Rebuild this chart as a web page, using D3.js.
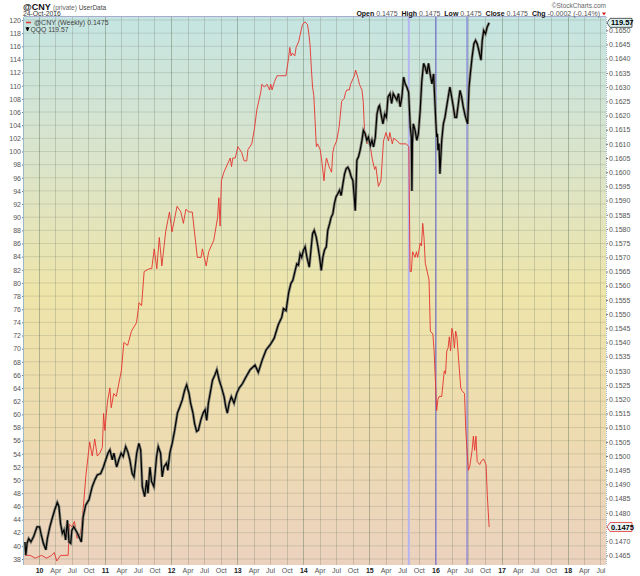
<!DOCTYPE html>
<meta charset='utf-8'>
<style>
	body { margin: 0; background: #fff; }
	svg { display: block; font-family: 'Liberation Sans', Arial, sans-serif; }
	.axis path { display: none; }
	.axis line { stroke: #777; }
	.axis text { fill: #555; font-size: 7px; }
</style>
<body>
<div id='container'></div>
<script src='https://d3js.org/d3.v7.min.js'></script>
<script>
	// @CNY weekly close (right axis)
	const cnyWeekly = [
		['2009-10-16', 0.1465], ['2009-11-13', 0.1465], ['2009-12-11', 0.1464], ['2010-01-15', 0.1465],
		['2010-02-12', 0.1464], ['2010-03-12', 0.1465], ['2010-03-26', 0.1466], ['2010-04-09', 0.1463],
		['2010-04-30', 0.1465], ['2010-06-11', 0.1465], ['2010-06-18', 0.1476], ['2010-07-02', 0.1475],
		['2010-07-16', 0.1477], ['2010-07-30', 0.1471], ['2010-08-20', 0.1473], ['2010-09-03', 0.1482],
		['2010-09-17', 0.1493], ['2010-10-08', 0.1505], ['2010-10-22', 0.1500], ['2010-11-05', 0.1506],
		['2010-11-19', 0.1500], ['2010-12-03', 0.1501], ['2010-12-17', 0.1503], ['2010-12-24', 0.1515],
		['2010-12-31', 0.1509], ['2011-01-14', 0.1519], ['2011-01-28', 0.1524], ['2011-02-04', 0.1517],
		['2011-02-18', 0.1522], ['2011-03-04', 0.1521], ['2011-04-01', 0.1530], ['2011-04-15', 0.1540],
		['2011-05-06', 0.1539], ['2011-05-27', 0.1544], ['2011-06-24', 0.1547], ['2011-07-08', 0.1554],
		['2011-07-22', 0.1553], ['2011-08-05', 0.1565], ['2011-09-02', 0.1566], ['2011-09-16', 0.1566],
		['2011-09-30', 0.1573], ['2011-10-14', 0.1566], ['2011-10-28', 0.1577], ['2011-11-11', 0.1567],
		['2011-12-02', 0.1579], ['2011-12-23', 0.1586], ['2012-01-06', 0.1579], ['2012-02-03', 0.1588],
		['2012-02-24', 0.1586], ['2012-03-09', 0.1582], ['2012-03-23', 0.1587], ['2012-04-06', 0.1586],
		['2012-04-27', 0.1586], ['2012-05-25', 0.1570], ['2012-06-15', 0.1570], ['2012-06-22', 0.1573],
		['2012-07-13', 0.1567], ['2012-07-27', 0.1572], ['2012-08-24', 0.1576], ['2012-09-14', 0.1584],
		['2012-09-21', 0.1591], ['2012-09-28', 0.1581], ['2012-10-05', 0.1597], ['2012-10-19', 0.1600],
		['2012-11-23', 0.1605], ['2012-11-30', 0.1602], ['2012-12-07', 0.1605], ['2012-12-21', 0.1605],
		['2013-01-04', 0.1609], ['2013-01-25', 0.1607], ['2013-02-08', 0.1604], ['2013-02-22', 0.1604],
		['2013-03-01', 0.1608], ['2013-03-22', 0.1610], ['2013-04-05', 0.1615], ['2013-04-19', 0.1622],
		['2013-05-10', 0.1628], ['2013-05-17', 0.1631], ['2013-05-31', 0.1630], ['2013-06-14', 0.1631],
		['2013-06-28', 0.1629], ['2013-07-05', 0.1631], ['2013-07-12', 0.1629], ['2013-07-26', 0.1632],
		['2013-08-09', 0.1634], ['2013-08-23', 0.1634], ['2013-09-27', 0.1634], ['2013-10-11', 0.1640],
		['2013-10-18', 0.1644], ['2013-10-25', 0.1641], ['2013-11-01', 0.1642], ['2013-11-15', 0.1641],
		['2013-11-22', 0.1644], ['2013-12-06', 0.1646], ['2013-12-13', 0.1648], ['2013-12-27', 0.1652],
		['2014-01-10', 0.1653], ['2014-01-24', 0.1652], ['2014-01-31', 0.1649], ['2014-02-07', 0.1645],
		['2014-02-14', 0.1637], ['2014-02-21', 0.1630], ['2014-02-28', 0.1627], ['2014-03-07', 0.1618],
		['2014-03-14', 0.1609], ['2014-03-21', 0.1610], ['2014-04-04', 0.1608], ['2014-04-11', 0.1605],
		['2014-04-25', 0.1597], ['2014-05-02', 0.1602], ['2014-05-09', 0.1605], ['2014-05-23', 0.1602],
		['2014-06-06', 0.1600], ['2014-06-13', 0.1607], ['2014-06-20', 0.1609], ['2014-07-04', 0.1611],
		['2014-07-18', 0.1616], ['2014-08-01', 0.1625], ['2014-08-15', 0.1626], ['2014-08-22', 0.1628],
		['2014-08-29', 0.1629], ['2014-09-12', 0.1629], ['2014-09-19', 0.1631], ['2014-10-03', 0.1633],
		['2014-10-10', 0.1634], ['2014-10-17', 0.1636], ['2014-10-31', 0.1633], ['2014-11-07', 0.1631],
		['2014-11-21', 0.1629], ['2014-11-28', 0.1625], ['2014-12-05', 0.1615], ['2014-12-19', 0.1610],
		['2014-12-26', 0.1612], ['2015-01-09', 0.1608], ['2015-01-16', 0.1605], ['2015-01-30', 0.1601],
		['2015-02-06', 0.1602], ['2015-02-20', 0.1595], ['2015-03-06', 0.1597], ['2015-03-20', 0.1611],
		['2015-04-03', 0.1614], ['2015-04-17', 0.1611], ['2015-04-24', 0.1614], ['2015-05-08', 0.1610],
		['2015-05-15', 0.1612], ['2015-06-05', 0.1611], ['2015-06-19', 0.1610], ['2015-07-24', 0.1610],
		['2015-08-07', 0.1609], ['2015-08-14', 0.1565], ['2015-08-21', 0.1565], ['2015-08-28', 0.1572],
		['2015-09-11', 0.1570], ['2015-09-18', 0.1572], ['2015-09-25', 0.1570], ['2015-10-09', 0.1575],
		['2015-10-16', 0.1574], ['2015-10-23', 0.1582], ['2015-10-30', 0.1577], ['2015-11-06', 0.1568],
		['2015-11-27', 0.1562], ['2015-12-04', 0.1544], ['2015-12-18', 0.1543], ['2015-12-25', 0.1537],
		['2016-01-08', 0.1516], ['2016-01-15', 0.1520], ['2016-01-22', 0.1521], ['2016-02-05', 0.1521],
		['2016-02-19', 0.1530], ['2016-02-26', 0.1529], ['2016-03-04', 0.1537], ['2016-03-11', 0.1538],
		['2016-03-18', 0.1542], ['2016-03-25', 0.1537], ['2016-04-01', 0.1545], ['2016-04-08', 0.1543],
		['2016-04-15', 0.1538], ['2016-04-22', 0.1544], ['2016-04-29', 0.1542], ['2016-05-13', 0.1530],
		['2016-05-20', 0.1524], ['2016-05-27', 0.1523], ['2016-06-10', 0.1522], ['2016-06-17', 0.1509],
		['2016-07-01', 0.1495], ['2016-07-08', 0.1496], ['2016-07-22', 0.1502], ['2016-07-29', 0.1507],
		['2016-08-05', 0.1502], ['2016-08-12', 0.1507], ['2016-08-19', 0.1498], ['2016-09-02', 0.1497],
		['2016-09-09', 0.1498], ['2016-09-23', 0.1499], ['2016-10-07', 0.1497], ['2016-10-14', 0.1486],
		['2016-10-24', 0.1475],
	];

	// QQQ price (left axis)
	const qqqPrice = [
		['2009-10-15', 40.6], ['2009-10-20', 38.6], ['2009-10-27', 40.4], ['2009-11-05', 41.1],
		['2009-11-17', 40.6], ['2009-12-02', 41.4], ['2009-12-21', 42.9], ['2010-01-04', 42.9],
		['2010-01-13', 41.7], ['2010-01-25', 40.4], ['2010-02-08', 39.4], ['2010-02-16', 41.1],
		['2010-03-02', 42.9], ['2010-03-15', 44.2], ['2010-03-29', 45.5], ['2010-04-12', 46.6],
		['2010-04-21', 46.0], ['2010-04-30', 43.4], ['2010-05-10', 41.9], ['2010-05-19', 42.4],
		['2010-05-28', 40.9], ['2010-06-07', 43.9], ['2010-06-16', 40.6], ['2010-06-25', 40.4],
		['2010-07-02', 42.4], ['2010-07-12', 42.9], ['2010-07-27', 42.2], ['2010-08-10', 41.4],
		['2010-08-23', 40.6], ['2010-09-02', 44.4], ['2010-09-16', 46.2], ['2010-10-04', 47.0],
		['2010-10-22', 49.0], ['2010-11-05', 50.0], ['2010-11-19', 50.8], ['2010-12-08', 51.0],
		['2010-12-23', 52.0], ['2011-01-05', 53.1], ['2011-01-17', 54.1], ['2011-01-28', 54.6],
		['2011-02-10', 53.1], ['2011-02-19', 54.1], ['2011-03-06', 52.0], ['2011-03-18', 53.1],
		['2011-03-31', 54.1], ['2011-04-11', 53.6], ['2011-04-25', 55.1], ['2011-05-07', 54.3],
		['2011-05-18', 53.1], ['2011-05-31', 51.0], ['2011-06-10', 50.5], ['2011-06-25', 54.1],
		['2011-07-07', 55.6], ['2011-07-17', 54.6], ['2011-07-26', 49.0], ['2011-08-08', 47.5],
		['2011-08-19', 50.0], ['2011-08-26', 48.0], ['2011-09-06', 52.0], ['2011-09-15', 49.8],
		['2011-09-28', 49.0], ['2011-10-13', 53.6], ['2011-10-22', 55.1], ['2011-11-04', 54.1],
		['2011-11-13', 50.5], ['2011-11-22', 52.0], ['2011-12-07', 52.6], ['2011-12-14', 51.5],
		['2011-12-25', 54.1], ['2012-01-07', 55.6], ['2012-01-21', 57.6], ['2012-02-05', 60.2],
		['2012-02-19', 61.2], ['2012-03-03', 62.2], ['2012-03-16', 63.7], ['2012-03-27', 64.5],
		['2012-04-09', 63.2], ['2012-04-18', 61.7], ['2012-05-01', 60.2], ['2012-05-10', 58.6],
		['2012-05-21', 57.4], ['2012-05-31', 57.6], ['2012-06-13', 59.1], ['2012-06-26', 60.2],
		['2012-07-07', 60.7], ['2012-07-16', 59.1], ['2012-07-25', 61.7], ['2012-08-04', 63.2],
		['2012-08-17', 65.2], ['2012-08-30', 66.0], ['2012-09-10', 66.8], ['2012-09-23', 65.2],
		['2012-10-05', 64.2], ['2012-10-20', 62.7], ['2012-10-29', 61.2], ['2012-11-07', 60.2],
		['2012-11-17', 61.7], ['2012-11-29', 62.7], ['2012-12-14', 61.7], ['2012-12-29', 63.2],
		['2013-01-11', 64.0], ['2013-01-30', 64.7], ['2013-02-14', 65.5], ['2013-03-13', 66.8],
		['2013-04-09', 67.5], ['2013-04-27', 66.4], ['2013-05-19', 68.3], ['2013-06-09', 69.8],
		['2013-07-02', 70.6], ['2013-07-24', 71.6], ['2013-08-15', 73.6], ['2013-09-04', 74.8],
		['2013-09-13', 76.1], ['2013-09-28', 75.8], ['2013-10-11', 78.4], ['2013-10-24', 79.9],
		['2013-11-04', 80.4], ['2013-11-17', 81.9], ['2013-11-26', 82.9], ['2013-12-05', 82.7],
		['2013-12-14', 84.4], ['2013-12-23', 83.9], ['2014-01-02', 85.0], ['2014-01-11', 85.5],
		['2014-01-21', 83.9], ['2014-02-03', 82.4], ['2014-02-12', 85.0], ['2014-02-21', 87.5],
		['2014-03-02', 88.0], ['2014-03-13', 87.0], ['2014-03-23', 85.5], ['2014-04-01', 83.9],
		['2014-04-10', 81.9], ['2014-04-19', 83.9], ['2014-04-28', 85.0], ['2014-05-08', 85.5],
		['2014-05-16', 88.0], ['2014-05-26', 89.0], ['2014-06-04', 90.0], ['2014-06-13', 90.5],
		['2014-06-22', 92.1], ['2014-07-01', 93.1], ['2014-07-11', 93.6], ['2014-07-20', 94.1],
		['2014-07-29', 93.3], ['2014-08-08', 95.1], ['2014-08-17', 96.6], ['2014-08-26', 97.4],
		['2014-09-04', 97.6], ['2014-09-13', 97.1], ['2014-09-23', 96.1], ['2014-10-02', 95.6],
		['2014-10-15', 91.0], ['2014-10-20', 95.1], ['2014-10-24', 98.7], ['2014-11-02', 99.2],
		['2014-11-11', 100.2], ['2014-11-21', 101.7], ['2014-11-29', 103.2], ['2014-12-09', 102.7],
		['2014-12-18', 101.7], ['2014-12-27', 102.2], ['2015-01-06', 100.9], ['2015-01-15', 101.7],
		['2015-01-24', 100.7], ['2015-02-03', 102.2], ['2015-02-12', 105.7], ['2015-02-21', 106.8],
		['2015-02-26', 107.0], ['2015-03-10', 105.2], ['2015-03-17', 104.2], ['2015-03-27', 105.7],
		['2015-04-05', 105.2], ['2015-04-14', 108.3], ['2015-04-25', 108.8], ['2015-05-04', 107.3],
		['2015-05-13', 108.8], ['2015-05-23', 108.3], ['2015-06-02', 107.8], ['2015-06-11', 108.8],
		['2015-06-20', 106.8], ['2015-06-30', 108.3], ['2015-07-09', 111.3], ['2015-07-18', 110.3],
		['2015-07-27', 109.8], ['2015-08-06', 109.0], ['2015-08-15', 103.7], ['2015-08-21', 102.2],
		['2015-08-24', 94.0], ['2015-08-27', 101.2], ['2015-09-01', 104.2], ['2015-09-11', 103.2],
		['2015-09-20', 101.7], ['2015-09-29', 102.7], ['2015-10-09', 106.3], ['2015-10-18', 110.8],
		['2015-10-28', 113.4], ['2015-11-06', 112.8], ['2015-11-15', 111.8], ['2015-11-24', 113.4],
		['2015-12-03', 111.8], ['2015-12-13', 110.3], ['2015-12-22', 111.8], ['2016-01-04', 104.2],
		['2016-01-08', 102.2], ['2016-01-12', 102.7], ['2016-01-15', 100.2], ['2016-01-21', 101.2],
		['2016-01-26', 96.6], ['2016-02-05', 101.7], ['2016-02-14', 104.2], ['2016-02-23', 105.2],
		['2016-03-03', 106.8], ['2016-03-12', 108.3], ['2016-03-21', 109.8], ['2016-03-31', 108.3],
		['2016-04-09', 106.8], ['2016-04-18', 105.2], ['2016-04-27', 105.2], ['2016-05-07', 107.3],
		['2016-05-16', 109.3], ['2016-05-25', 108.3], ['2016-06-03', 106.8], ['2016-06-13', 105.5],
		['2016-06-27', 104.2], ['2016-07-05', 109.8], ['2016-07-12', 111.8], ['2016-07-22', 114.4],
		['2016-08-01', 116.4], ['2016-08-10', 116.9], ['2016-08-19', 116.4], ['2016-08-28', 115.4],
		['2016-09-09', 113.9], ['2016-09-16', 116.9], ['2016-09-24', 118.4], ['2016-10-04', 117.9],
		['2016-10-13', 118.9], ['2016-10-24', 119.57],
	];

	// event markers drawn as vertical lines
	const markerDates = ['2015-08-07', '2016-01-04', '2016-06-24'];
	const markerColors = ['#b4b4f2', '#6c66dc', '#6c66dc'];

	const leftTicks = d3.range(38, 121, 2);
	const rightTicks = d3.range(2930, 3301, 10).map(v => v / 20000);

	const W = 640, H = 576;
	const margin = { top: 17, left: 24, right: 34, bottom: 11 };
	const plotRight = W - margin.right, plotBottom = H - margin.bottom;
	const parse = d3.timeParse('%Y-%m-%d');

	const xScale = d3.scaleTime()
		.domain( [new Date(2009, 9, 10), new Date(2018, 7, 1)] )
		.range( [margin.left, plotRight] );
	const yLeft = d3.scaleLinear()
		.domain( [37.09, 120.46] )
		.range( [plotBottom, margin.top] );
	const yRight = d3.scaleLinear()
		.domain( [0.14616, 0.16547] )
		.range( [plotBottom, margin.top] );

	const svg = d3.select('#container').append('svg')
		.attr('width', W).attr('height', H);

	let defs = svg.append('defs');
	let grad = defs.append('linearGradient')
		.attr('id', 'bg').attr('x1', 0).attr('x2', 0).attr('y1', 0).attr('y2', 1);
	[[0, '#c5e5e2'], [0.25, '#d9e4cc'], [0.5, '#eee5aa'], [0.75, '#eedcb0'], [1, '#ebd2bf']]
		.forEach( s => grad.append('stop').attr('offset', s[0]).attr('stop-color', s[1]) );
	defs.append('clipPath').attr('id', 'plot')
		.append('rect')
			.attr('x', margin.left).attr('y', margin.top)
			.attr('width', plotRight - margin.left).attr('height', plotBottom - margin.top);

	svg.append('rect')
		.attr('x', margin.left).attr('y', margin.top)
		.attr('width', plotRight - margin.left).attr('height', plotBottom - margin.top)
		.style('fill', 'url(#bg)');

	// grid
	const quarters = d3.timeMonth.every(3).range( xScale.domain()[0], xScale.domain()[1] );
	let grid = svg.append('g').attr('class', 'grid');
	grid.selectAll('.hgrid').data(leftTicks).enter().append('line')
		.attr('x1', margin.left).attr('x2', plotRight)
		.attr('y1', d => yLeft(d)).attr('y2', d => yLeft(d))
		.style('stroke', 'rgba(110,120,100,0.22)').style('stroke-width', 1);
	grid.selectAll('.vgrid').data(quarters).enter().append('line')
		.attr('x1', d => Math.round(xScale(d)) + 0.5).attr('x2', d => Math.round(xScale(d)) + 0.5)
		.attr('y1', margin.top).attr('y2', plotBottom)
		.style('stroke', d => d.getMonth() === 0 ? 'rgba(100,120,95,0.45)' : 'rgba(110,120,100,0.28)')
		.style('stroke-width', 1);

	// markers
	svg.append('g').selectAll('line').data(markerDates).enter().append('line')
		.attr('x1', d => xScale(parse(d))).attr('x2', d => xScale(parse(d)))
		.attr('y1', margin.top).attr('y2', plotBottom)
		.style('stroke', (d, i) => markerColors[i])
		.style('stroke-width', (d, i) => i === 0 ? 2 : 1);

	let lines = svg.append('g').attr('clip-path', 'url(#plot)');

	const cnyLine = d3.line()
		.x( d => xScale(parse(d[0])) )
		.y( d => yRight(d[1]) );
	const qqqLine = d3.line()
		.x( d => xScale(parse(d[0])) )
		.y( d => yLeft(d[1]) );

	lines.append('path').datum(cnyWeekly)
		.attr('d', cnyLine)
		.style('fill', 'none').style('stroke', '#e3322c').style('stroke-width', 0.9);
	lines.append('path').datum(qqqPrice)
		.attr('d', qqqLine)
		.style('fill', 'none').style('stroke', '#86867a').style('stroke-width', 2.8);
	lines.append('path').datum(qqqPrice)
		.attr('d', qqqLine)
		.style('fill', 'none').style('stroke', '#000').style('stroke-width', 1.2);

	// axes
	svg.append('g').attr('class', 'axis')
		.attr('transform', `translate(${margin.left},0)`)
		.call( d3.axisLeft(yLeft).tickValues(leftTicks).tickSize(2).tickPadding(1) );

	let rAxis = svg.append('g').attr('class', 'axis')
		.attr('transform', `translate(${plotRight},0)`)
		.call( d3.axisRight(yRight).tickValues(rightTicks).tickSize(2).tickPadding(1).tickFormat(d3.format('.4f')) );
	rAxis.selectAll('text').filter(d => Math.abs(d - 0.1475) < 1e-6).remove();

	svg.append('line')
		.attr('x1', plotRight + 0.5).attr('x2', plotRight + 0.5)
		.attr('y1', margin.top).attr('y2', plotBottom)
		.style('stroke', '#9bb8c8').style('stroke-dasharray', '1,1');
	svg.append('line')
		.attr('x1', margin.left - 0.5).attr('x2', margin.left - 0.5)
		.attr('y1', margin.top).attr('y2', plotBottom)
		.style('stroke', '#9bb8c8');
	svg.append('line')
		.attr('x1', margin.left).attr('x2', plotRight)
		.attr('y1', margin.top - 0.5).attr('y2', margin.top - 0.5)
		.style('stroke', '#aac');

	let xAxisEl = svg.append('g').attr('class', 'axis')
		.attr('transform', `translate(0,${plotBottom})`)
		.call( d3.axisBottom(xScale).tickValues(quarters).tickSize(0).tickPadding(3)
			.tickFormat( d => d.getMonth() === 0 ? d3.timeFormat('%y')(d) : d3.timeFormat('%b')(d) ) );
	xAxisEl.selectAll('text')
		.style('font-weight', d => d.getMonth() === 0 ? 'bold' : 'normal')
		.style('fill', d => d.getMonth() === 0 ? '#222' : '#555');

	// price badges on the right axis
	const badge = (y, label, border, bg) => {
		let g = svg.append('g').attr('transform', `translate(${plotRight + 1},${y})`);
		g.append('path')
			.attr('d', 'M0,0 L3,-4.5 L25,-4.5 L25,4.5 L3,4.5 Z')
			.style('fill', bg).style('stroke', border).style('stroke-width', 0.8);
		g.append('text').attr('x', 4).attr('y', 2.6)
			.style('font-size', '7.5px').style('font-weight', 'bold').style('fill', '#000')
			.text(label);
	};
	badge( yLeft(qqqPrice[qqqPrice.length - 1][1]), '119.57', '#333', '#d8efee' );
	badge( yRight(cnyWeekly[cnyWeekly.length - 1][1]), '0.1475', '#e03030', '#e8f4f6' );

	// header
	let head = svg.append('g');
	head.append('text').attr('x', 23).attr('y', 9.5)
		.style('font-size', '9px').style('font-weight', 'bold').style('fill', '#111').text('@CNY');
	head.append('text').attr('x', 53).attr('y', 9.5)
		.style('font-size', '6.5px').style('fill', '#666')
		.text('(private) ')
		.append('tspan').style('fill', '#444').text('UserData');
	head.append('text').attr('x', 23).attr('y', 16.3)
		.style('font-size', '6.8px').style('fill', '#333').text('24-Oct-2016');
	head.append('text').attr('x', 606).attr('y', 8.2).attr('text-anchor', 'end')
		.style('font-size', '6.5px').style('fill', '#666').text('\u00a9StockCharts.com');

	let ohlc = head.append('text').attr('x', 600).attr('y', 16.3).attr('text-anchor', 'end')
		.style('font-size', '7px');
	[['Open', ' 0.1475  '], ['High', ' 0.1475  '], ['Low', ' 0.1475  '], ['Close', ' 0.1475  '], ['Chg', ' -0.0002 (-0.14%)']]
		.forEach( p => {
			ohlc.append('tspan').style('font-weight', 'bold').style('fill', '#111').text(p[0]);
			ohlc.append('tspan').style('fill', '#555').attr('xml:space', 'preserve').text(p[1]);
		} );
	head.append('path').attr('d', 'M602,12.5 L606,12.5 L604,15.5 Z').style('fill', '#d02020');

	// legend
	let legend = svg.append('g');
	legend.append('line').attr('x1', 26).attr('x2', 31).attr('y1', 22.5).attr('y2', 22.5)
		.style('stroke', '#e3322c').style('stroke-width', 1.5);
	legend.append('text').attr('x', 34).attr('y', 25)
		.style('font-size', '7px').style('fill', '#444').text('@CNY (Weekly) 0.1475');
	legend.append('path').attr('d', 'M26,27 L27.5,31 L29,27 M27.5,27 L27.5,31')
		.style('stroke', '#000').style('stroke-width', 1).style('fill', 'none');
	legend.append('text').attr('x', 30.5).attr('y', 31.5)
		.style('font-size', '6.8px').style('fill', '#444').text('QQQ 119.57');
</script>
</body>
